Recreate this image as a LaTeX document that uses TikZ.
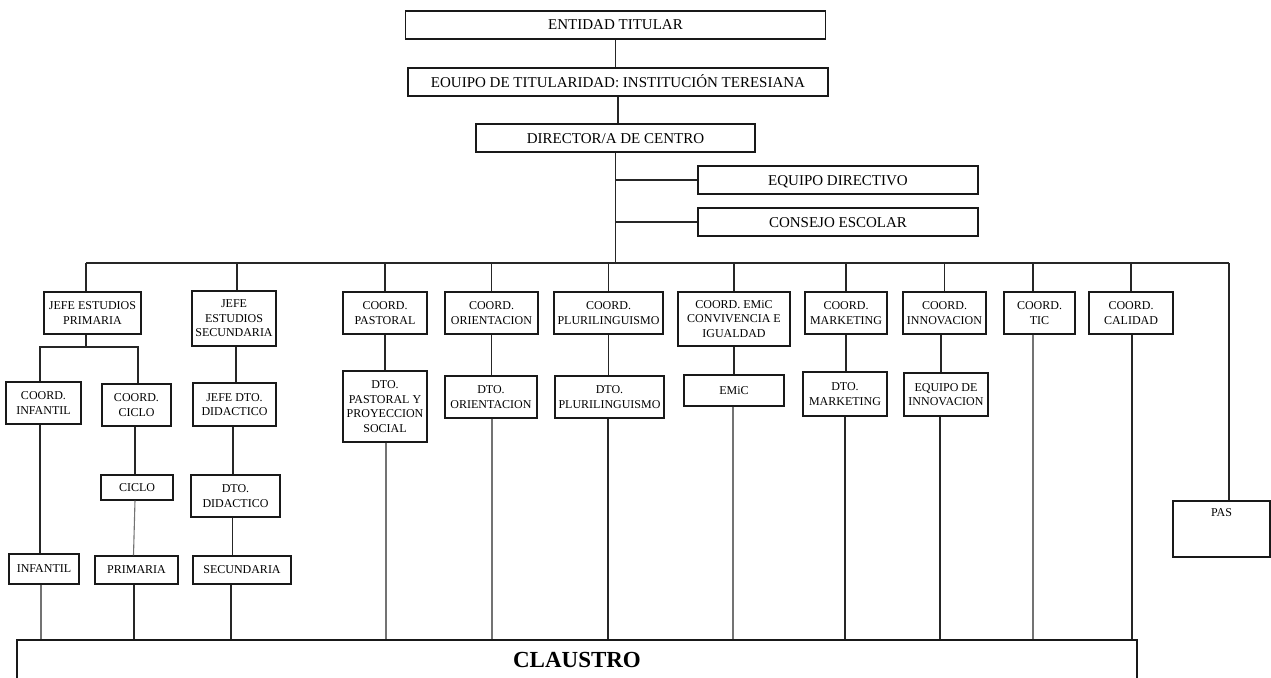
\documentclass[tikz,border=0pt]{standalone}
\usepackage{fontspec}
\setmainfont{Liberation Serif}
\begin{document}
\begin{tikzpicture}[x=1pt,y=-1pt,
  bx/.style={draw=black!90, line width=1.1pt, rectangle, align=center, inner sep=1pt, font=\fontsize{12}{14.5}\selectfont},
  bigbx/.style={bx, text height=10pt, text depth=0pt, font=\fontsize{15}{18}\selectfont},
  ln/.style={draw=black!85, line width=1.1pt},
  lg/.style={draw=black!55, line width=1.1pt}]
\useasboundingbox (0,0) rectangle (1271,677);
\clip (0,0) rectangle (1271,677);
% top
\node[bigbx, minimum width=420pt, minimum height=28pt] (ent) at (615.5,25) {ENTIDAD TITULAR};
\node[bigbx, minimum width=420pt, minimum height=28pt] (eq) at (618,82) {EOUIPO DE TITULARIDAD: INSTITUCIÓN TERESIANA};
\node[bigbx, minimum width=279pt, minimum height=28pt] (dir) at (615.5,138) {DIRECTOR/A DE CENTRO};
\node[bigbx, minimum width=280pt, minimum height=28pt] (ed) at (838,180) {EQUIPO DIRECTIVO};
\node[bigbx, minimum width=280pt, minimum height=28pt] (ce) at (838,222) {CONSEJO ESCOLAR};
% level 2
\node[bx, minimum width=97pt, minimum height=42pt] (jp) at (92.5,313) {JEFE ESTUDIOS\\PRIMARIA};
\node[bx, minimum width=84pt, minimum height=55pt] (js) at (234,318.5) {JEFE\\ESTUDIOS\\SECUNDARIA};
\node[bx, minimum width=84pt, minimum height=42pt] (cpast) at (385,313) {COORD.\\PASTORAL};
\node[bx, minimum width=93pt, minimum height=42pt] (cori) at (491.5,313) {COORD.\\ORIENTACION};
\node[bx, minimum width=109pt, minimum height=42pt] (cplu) at (608.5,313) {COORD.\\PLURILINGUISMO};
\node[bx, minimum width=112pt, minimum height=54pt] (cemic) at (734,319) {COORD. EMiC\\CONVIVENCIA E\\IGUALDAD};
\node[bx, minimum width=82pt, minimum height=42pt] (cmkt) at (846,313) {COORD.\\MARKETING};
\node[bx, minimum width=83pt, minimum height=42pt] (cinn) at (944.5,313) {COORD.\\INNOVACION};
\node[bx, minimum width=71pt, minimum height=42pt] (ctic) at (1039.5,313) {COORD.\\TIC};
\node[bx, minimum width=84pt, minimum height=42pt] (ccal) at (1131,313) {COORD.\\CALIDAD};
\node[bx, minimum width=97pt, minimum height=56pt] (pas) at (1221.5,529) {};
\node[font=\fontsize{12}{14.5}\selectfont, anchor=north, inner sep=1pt] (pastxt) at ([yshift=-7pt]pas.north) {PAS};
% level 3
\node[bx, minimum width=75pt, minimum height=42pt] (cinf) at (43.5,403) {COORD.\\INFANTIL};
\node[bx, minimum width=69pt, minimum height=42pt] (cciclo) at (136.5,405) {COORD.\\CICLO};
\node[bx, minimum width=83pt, minimum height=43pt] (jdd) at (234.5,404.5) {JEFE DTO.\\DIDACTICO};
\node[bx, minimum width=84pt, minimum height=71pt] (dpast) at (385,406.5) {DTO.\\PASTORAL Y\\PROYECCION\\SOCIAL};
\node[bx, minimum width=92pt, minimum height=42pt] (dori) at (491,397) {DTO.\\ORIENTACION};
\node[bx, minimum width=109pt, minimum height=42pt] (dplu) at (609.5,397) {DTO.\\PLURILINGUISMO};
\node[bx, minimum width=100pt, minimum height=31pt] (emic) at (734,390.5) {EMiC};
\node[bx, minimum width=84pt, minimum height=44pt] (dmkt) at (845,394) {DTO.\\MARKETING};
\node[bx, minimum width=84pt, minimum height=43pt] (einn) at (946,394.5) {EQUIPO DE\\INNOVACION};
% level 4
\node[bx, minimum width=72pt, minimum height=25pt] (ciclo) at (137,487.5) {CICLO};
\node[bx, minimum width=89pt, minimum height=42pt] (ddid) at (235.5,496) {DTO.\\DIDACTICO};
% level 5
\node[bx, minimum width=70pt, minimum height=30pt] (inf) at (44,569) {INFANTIL};
\node[bx, minimum width=83pt, minimum height=28pt] (prim) at (136.5,570) {PRIMARIA};
\node[bx, minimum width=98pt, minimum height=28pt] (secu) at (242,570) {SECUNDARIA};
% claustro
\node[draw=black!90, line width=1.1pt, rectangle, minimum width=1120pt, minimum height=40pt, inner sep=0pt, font=\fontsize{23}{26}\selectfont\bfseries] (cl) at (577,660) {CLAUSTRO};
% connectors top
\coordinate (busL) at (86,263);
\coordinate (busR) at (1229,263);
\coordinate (jpfork) at (86,347);
\draw[ln] (ent.south) -- (ent.south |- eq.north);
\draw[ln] (eq.south) -- (eq.south |- dir.north);
\draw[ln] (dir.south) -- (dir.south |- busL);
\draw[ln] (dir.south |- ed.west) -- (ed.west);
\draw[ln] (dir.south |- ce.west) -- (ce.west);
\draw[ln] (busL) -- (busR);
% drops from bus
\draw[ln] ([xshift=-6.5pt]jp.north) -- ([xshift=-6.5pt]jp.north |- busL);
\draw[ln] ([xshift=3pt]js.north) -- ([xshift=3pt]js.north |- busL);
\foreach \n in {cpast,cori,cplu,cemic,cmkt,cinn,ccal}
  \draw[ln] (\n.north) -- (\n.north |- busL);
\draw[ln] ([xshift=-6.5pt]ctic.north) -- ([xshift=-6.5pt]ctic.north |- busL);
\draw[ln] ([xshift=7.5pt]pas.north) -- ([xshift=7.5pt]pas.north |- busR);
% primaria branch
\draw[ln] ([xshift=-6.5pt]jp.south) -- (jpfork);
\draw[ln] ([xshift=-3.5pt]cinf.north) |- (jpfork);
\draw[ln] ([xshift=1.5pt]cciclo.north) |- (jpfork);
\draw[ln] ([xshift=-3.5pt]cinf.south) -- ([xshift=-3.5pt]cinf.south |- inf.north);
\draw[ln] ([xshift=-1.5pt]cciclo.south) -- ([xshift=-1.5pt]cciclo.south |- ciclo.north);
\draw[lg] ([xshift=-2pt]ciclo.south) -- ([xshift=-3pt]prim.north);
% secundaria branch
\draw[ln] ([xshift=2pt]js.south) -- ([xshift=2pt]js.south |- jdd.north);
\draw[ln] ([xshift=-1.5pt]jdd.south) -- ([xshift=-1.5pt]jdd.south |- ddid.north);
\draw[ln] ([xshift=-3pt]ddid.south) -- ([xshift=-3pt]ddid.south |- secu.north);
% coordinator to department
\draw[ln] (cpast.south) -- (dpast.north);
\draw[ln] (cori.south) -- (cori.south |- dori.north);
\draw[ln] (cplu.south) -- (cplu.south |- dplu.north);
\draw[ln] (cemic.south) -- (cemic.south |- emic.north);
\draw[ln] (cmkt.south) -- (cmkt.south |- dmkt.north);
\draw[ln] ([xshift=-3.5pt]cinn.south) -- ([xshift=-3.5pt]cinn.south |- einn.north);
% to claustro
\draw[lg] ([xshift=-3pt]inf.south) -- ([xshift=-3pt]inf.south |- cl.north);
\draw[ln] ([xshift=-2.5pt]prim.south) -- ([xshift=-2.5pt]prim.south |- cl.north);
\draw[ln] ([xshift=-11pt]secu.south) -- ([xshift=-11pt]secu.south |- cl.north);
\draw[lg] ([xshift=1pt]dpast.south) -- ([xshift=1pt]dpast.south |- cl.north);
\draw[lg] ([xshift=1pt]dori.south) -- ([xshift=1pt]dori.south |- cl.north);
\draw[ln] ([xshift=-1.5pt]dplu.south) -- ([xshift=-1.5pt]dplu.south |- cl.north);
\draw[lg] ([xshift=-1pt]emic.south) -- ([xshift=-1pt]emic.south |- cl.north);
\draw[ln] (dmkt.south) -- (dmkt.south |- cl.north);
\draw[ln] ([xshift=-6pt]einn.south) -- ([xshift=-6pt]einn.south |- cl.north);
\draw[lg] ([xshift=-6.5pt]ctic.south) -- ([xshift=-6.5pt]ctic.south |- cl.north);
\draw[ln] ([xshift=1pt]ccal.south) -- ([xshift=1pt]ccal.south |- cl.north);
\end{tikzpicture}
\end{document}
